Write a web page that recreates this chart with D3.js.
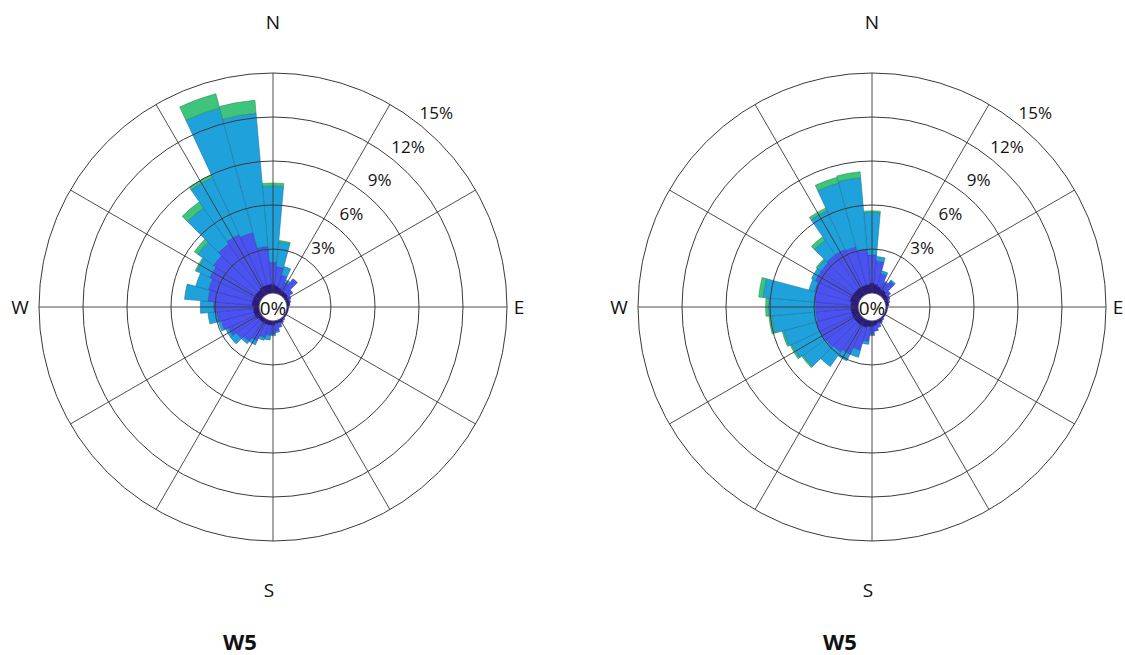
<!DOCTYPE html>
<html>
<head>
<meta charset="utf-8">
<script src="https://cdn.jsdelivr.net/npm/d3@7"></script>
<style>
  html, body { margin: 0; padding: 0; background: #fff; }
  svg { display: block; }
</style>
</head>
<body>
<svg id="chart" width="1125" height="655"></svg>
<script>
// ---------------- DATA ----------------
const directions = d3.range(0, 360, 10);           // sector bearings (deg)
const speedClasses = ["class1", "class2", "class3", "class4"];
const ringTicks = [3, 6, 9, 12, 15];
const ringLabels = ["3%", "6%", "9%", "12%", "15%"];
const compassLabels = ["N", "E", "S", "W"];
const titles = ["W5", "W5"];

// Left rose: frequency (%) per sector and speed class
const leftClass1 = [0.6,0.5,0.4,0.3,0.3,0.3,0.2,0.2,0.2,0.1,0.1,0.1,0.1,0.1,0.1,0.2,0.2,0.2,0.3,0.3,0.3,0.3,0.3,0.3,0.4,0.4,0.4,0.4,0.5,0.5,0.5,0.5,0.5,0.6,0.6,0.6];
const leftClass2 = [1.5,1.3,0.9,0.6,1.1,0.4,0.2,0.1,0.0,0.0,0.0,0.0,0.0,0.0,0.1,0.1,0.3,0.5,0.6,0.7,0.9,1.3,1.6,1.8,2.0,2.3,2.5,2.7,3.0,3.1,3.3,3.5,3.8,3.9,3.7,2.6];
const leftClass3 = [5.2,1.7,0.6,0.2,0.0,0.0,0.0,0.0,0.0,0.0,0.0,0.0,0.0,0.0,0.0,0.0,0.0,0.1,0.1,0.3,0.2,0.3,0.2,0.5,0.2,0.2,0.6,0.9,1.6,0.9,1.0,1.3,3.0,4.3,8.8,9.1];
const leftClass4 = [0.2,0.1,0.0,0.0,0.0,0.0,0.0,0.0,0.0,0.0,0.0,0.0,0.0,0.0,0.0,0.0,0.0,0.0,0.0,0.0,0.0,0.0,0.0,0.0,0.0,0.0,0.0,0.0,0.0,0.0,0.1,0.3,0.5,0.2,1.0,0.9];

// Right rose
const rightClass1 = [0.7,0.6,0.5,0.4,0.4,0.3,0.3,0.2,0.2,0.1,0.1,0.1,0.1,0.1,0.1,0.2,0.2,0.3,0.4,0.4,0.5,0.5,0.5,0.5,0.5,0.5,0.5,0.5,0.5,0.6,0.6,0.6,0.6,0.6,0.6,0.6];
const rightClass2 = [1.9,1.6,0.9,0.5,0.8,0.3,0.1,0.1,0.0,0.0,0.0,0.0,0.0,0.0,0.1,0.1,0.3,0.4,0.5,1.0,1.6,2.1,2.3,2.4,2.5,2.5,2.4,2.4,2.5,2.5,2.7,2.7,2.8,2.8,2.7,2.4];
const rightClass3 = [2.9,0.3,0.2,0.1,0.1,0.0,0.0,0.0,0.0,0.0,0.0,0.0,0.0,0.0,0.0,0.0,0.0,0.0,0.1,0.2,0.5,0.5,1.2,1.9,2.1,2.3,3.0,3.2,3.5,0.4,0.3,0.3,1.2,2.9,4.5,4.9];
const rightClass4 = [0.1,0.0,0.0,0.0,0.0,0.0,0.0,0.0,0.0,0.0,0.0,0.0,0.0,0.0,0.0,0.0,0.0,0.0,0.0,0.0,0.0,0.0,0.0,0.1,0.1,0.1,0.2,0.2,0.3,0.0,0.0,0.1,0.3,0.2,0.4,0.4];

const classColors = ["#2b1a86", "#4a52ef", "#1fa2dc", "#3fc47c"];
const classStroke = ["#1e1060", "#2f37b8", "#17719e", "#2a8a58"];

// ---------------- DRAW ----------------
const svg = d3.select("#chart");
const FONT = "'Open Sans', 'Noto Sans', sans-serif";

const r = d3.scaleLinear().domain([0, 15]).range([14, 234]);
const toRad = d => d * Math.PI / 180;

function drawRose(cx, cy, series, title, titleX) {
  const g = svg.append("g").attr("transform", `translate(${cx},${cy})`);

  // centre label (underneath bars, like the reference)
  g.append("circle").attr("r", r(0)).attr("fill", "#fff");
  g.append("text").text("0%")
    .attr("x", 0).attr("y", 1)
    .attr("text-anchor", "middle").attr("dominant-baseline", "central")
    .attr("font-family", FONT).attr("font-size", 19).attr("fill", "#111");

  // stacked bars
  const arc = d3.arc();
  const half = 5;
  directions.forEach((dir, i) => {
    let cum = 0;
    series.forEach((arr, k) => {
      const v = arr[i];
      if (v <= 0) return;
      const inner = cum;
      cum += v;
      g.append("path")
        .attr("d", arc({
          innerRadius: r(inner),
          outerRadius: r(cum),
          startAngle: toRad(dir - half),
          endAngle: toRad(dir + half)
        }))
        .attr("fill", classColors[k])
        .attr("stroke", classStroke[k])
        .attr("stroke-width", 0.7)
        .attr("stroke-opacity", 0.8);
    });
  });

  // grid rings
  g.selectAll("circle.ring").data(ringTicks).join("circle")
    .attr("class", "ring")
    .attr("r", d => r(d))
    .attr("fill", "none").attr("stroke", "#3a3a3a").attr("stroke-width", 1);

  // spokes every 30 degrees
  g.selectAll("line.spoke").data(d3.range(0, 360, 30)).join("line")
    .attr("class", "spoke")
    .attr("x1", d => Math.sin(toRad(d)) * r(0))
    .attr("y1", d => -Math.cos(toRad(d)) * r(0))
    .attr("x2", d => Math.sin(toRad(d)) * r(15))
    .attr("y2", d => -Math.cos(toRad(d)) * r(15))
    .attr("stroke", "#3a3a3a").attr("stroke-width", 0.9);

  // hole outline
  g.append("circle").attr("r", r(0)).attr("fill", "none")
    .attr("stroke", "#666").attr("stroke-width", 0.6);

  // ring labels along 40 degrees
  g.selectAll("text.rl").data(ringTicks).join("text")
    .attr("class", "rl")
    .text((d, i) => ringLabels[i])
    .attr("x", d => Math.sin(toRad(40)) * (r(d) + 20))
    .attr("y", d => -Math.cos(toRad(40)) * (r(d) + 20))
    .attr("text-anchor", "middle").attr("dominant-baseline", "central")
    .attr("font-family", FONT).attr("font-size", 17).attr("fill", "#111");

  // compass labels
  const compassPos = {N: [0, -285], E: [246, 0], S: [-4, 283], W: [-253, 0]};
  compassLabels.forEach(lbl => {
    g.append("text").text(lbl)
      .attr("x", compassPos[lbl][0]).attr("y", compassPos[lbl][1])
      .attr("text-anchor", "middle").attr("dominant-baseline", "central")
      .attr("font-family", FONT).attr("font-size", 19).attr("fill", "#111");
  });

  // title
  svg.append("text").text(title)
    .attr("x", titleX).attr("y", 650)
    .attr("text-anchor", "middle")
    .attr("font-family", FONT).attr("font-weight", "bold")
    .attr("font-size", 22).attr("fill", "#111");
}

drawRose(273, 307, [leftClass1, leftClass2, leftClass3, leftClass4], titles[0], 240);
drawRose(872, 307, [rightClass1, rightClass2, rightClass3, rightClass4], titles[1], 840);
</script>
</body>
</html>
